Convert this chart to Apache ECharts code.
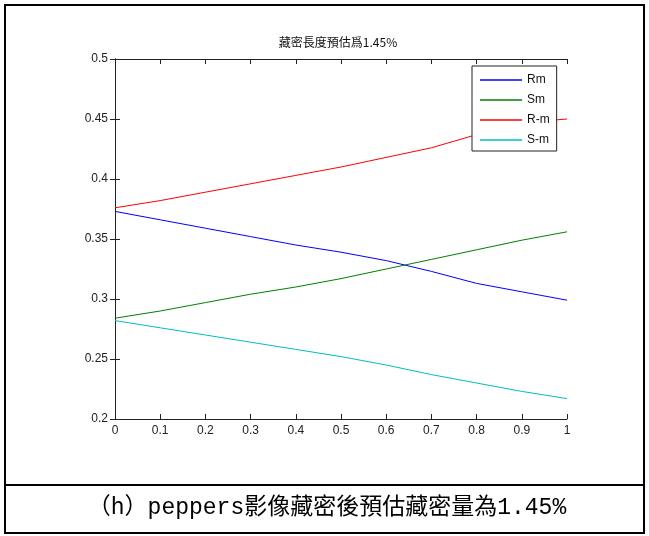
<!DOCTYPE html>
<html>
<head>
<meta charset="utf-8">
<script src="https://cdn.jsdelivr.net/npm/echarts@6/dist/echarts.min.js"></script>
<style>
  html, body { margin: 0; padding: 0; background: #fff; }
  #chart { width: 649px; height: 536px; }
</style>
</head>
<body>
<div id="chart"></div>
<script>
// x positions and the four curves
var xValues = [0, 0.1, 0.2, 0.3, 0.4, 0.5, 0.6, 0.7, 0.8, 0.9, 1];
var rm  = [0.373, 0.366, 0.359, 0.352, 0.345, 0.339, 0.332, 0.323, 0.313, 0.306, 0.299];
var sm  = [0.284, 0.290, 0.297, 0.304, 0.310, 0.317, 0.325, 0.333, 0.341, 0.349, 0.356];
var rMinusM = [0.376, 0.382, 0.389, 0.396, 0.403, 0.410, 0.418, 0.426, 0.437, 0.447, 0.450];
var sMinusM = [0.282, 0.276, 0.270, 0.264, 0.258, 0.252, 0.245, 0.237, 0.230, 0.223, 0.217];
var seriesNames = ['Rm', 'Sm', 'R-m', 'S-m'];
var seriesColors = ['#0000ff', '#008000', '#ff0000', '#00bfbf'];

var latin = '"Liberation Sans", Arial, sans-serif';
// 图例只画一条线, 不要圆点
var lineIcon = 'path://M0,0 L42,0 L42,1.5 L0,1.5 Z';

function pairs(ys) {
  return xValues.map(function (x, i) { return [x, ys[i]]; });
}

var myChart = echarts.init(document.getElementById('chart'));

function axisBase(pos, showLabel) {
  return {
    type: 'value',
    position: pos,
    axisLine: { show: true, lineStyle: { color: '#222', width: 1 } },
    axisTick: { show: true, inside: true, length: 5, lineStyle: { color: '#222' } },
    axisLabel: { show: showLabel, color: '#222', fontSize: 12, fontFamily: latin },
    splitLine: { show: false }
  };
}

var xBottom = axisBase('bottom', true);
xBottom.min = 0; xBottom.max = 1; xBottom.interval = 0.1;
xBottom.axisLabel.margin = 6;
var xTop = axisBase('top', false);
xTop.min = 0; xTop.max = 1; xTop.interval = 0.1;
var yLeft = axisBase('left', true);
yLeft.min = 0.2; yLeft.max = 0.5; yLeft.interval = 0.05;
yLeft.axisLabel.margin = 7;
var yRight = axisBase('right', false);
yRight.min = 0.2; yRight.max = 0.5; yRight.interval = 0.05;

var series = [rm, sm, rMinusM, sMinusM].map(function (ys, i) {
  return {
    name: seriesNames[i],
    type: 'line',
    xAxisIndex: 0,
    yAxisIndex: 0,
    symbol: 'none',
    smooth: false,
    lineStyle: { color: seriesColors[i], width: 1 },
    itemStyle: { color: seriesColors[i] },
    data: pairs(ys),
    z: 3
  };
});

myChart.setOption({
  animation: false,
  backgroundColor: '#fff',
  title: {
    text: '藏密長度預估爲1.45%',
    left: 333,
    textAlign: 'center',
    top: 31,
    textStyle: {
      fontSize: 12,
      fontWeight: 'normal',
      color: '#111',
      fontFamily: '"Noto Sans CJK TC", ' + latin
    }
  },
  grid: { left: 115, right: 82, top: 59, bottom: 117, containLabel: false },
  xAxis: [xBottom, xTop],
  yAxis: [yLeft, yRight],
  legend: {
    orient: 'vertical',
    left: 472,
    top: 66,
    padding: [8, 7, 5, 8],
    itemWidth: 42,
    itemHeight: 14,
    itemGap: 8,
    icon: lineIcon,
    backgroundColor: '#fff',
    borderColor: '#222',
    borderWidth: 1,
    borderRadius: 0,
    textStyle: { fontSize: 12, color: '#111', fontFamily: latin },
    data: seriesNames
  },
  series: series,
  graphic: [
    {
      type: 'rect',
      shape: { x: 5, y: 5, width: 639, height: 528 },
      style: { fill: 'none', stroke: '#000', lineWidth: 2 },
      silent: true
    },
    {
      type: 'line',
      shape: { x1: 5, y1: 485, x2: 644, y2: 485 },
      style: { stroke: '#000', lineWidth: 2 },
      silent: true
    },
    {
      type: 'text',
      x: 327,
      y: 508,
      style: {
        text: '（h）peppers影像藏密後預估藏密量為1.45%',
        fill: '#000',
        fontSize: 23,
        fontFamily: '"Liberation Mono", "Noto Sans CJK TC", monospace',
        align: 'center',
        verticalAlign: 'middle'
      },
      silent: true
    }
  ]
});
</script>
</body>
</html>
